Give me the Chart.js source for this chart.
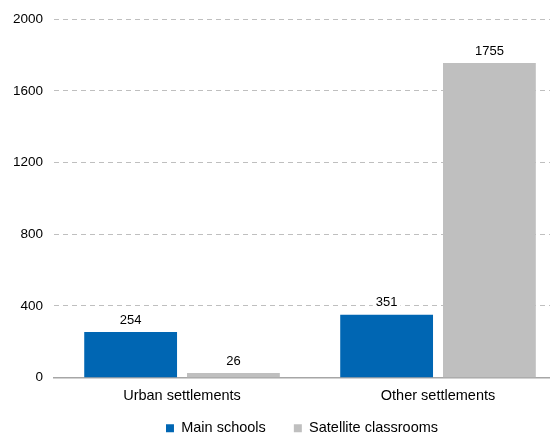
<!DOCTYPE html>
<html>
<head>
<meta charset="utf-8">
<script src="https://cdn.jsdelivr.net/npm/chart.js@4/dist/chart.umd.min.js"></script>
<style>
  html, body { margin: 0; padding: 0; background: #fff; overflow: hidden; }
  #wrap { width: 550px; height: 434px; overflow: hidden; }
  #box { width: 570px; height: 434px; }
</style>
</head>
<body>
<div id="wrap"><div id="box"><canvas id="chart"></canvas></div></div>
<script>
const categories = ['Urban settlements', 'Other settlements'];
const mainSchools = [254, 351];
const satelliteClassrooms = [26, 1755];
const yTicks = [0, 400, 800, 1200, 1600, 2000];

const FONT = '"Liberation Sans", Arial, sans-serif';

// value labels above bars, white box behind so gridlines break
const valueLabels = {
  id: 'valueLabels',
  afterDatasetsDraw(chart) {
    const ctx = chart.ctx;
    ctx.save();
    ctx.font = '13px ' + FONT;
    ctx.textAlign = 'center';
    ctx.textBaseline = 'middle';
    chart.data.datasets.forEach((ds, i) => {
      chart.getDatasetMeta(i).data.forEach((bar, j) => {
        const txt = String(ds.data[j]);
        const w = ctx.measureText(txt).width;
        const y = bar.y - 12;
        ctx.fillStyle = '#fff';
        ctx.fillRect(bar.x - w / 2 - 3, y - 8, w + 6, 16);
        ctx.fillStyle = '#000';
        ctx.fillText(txt, bar.x, y);
      });
    });
    ctx.restore();
  }
};

// legend padding is wide for item spacing; pull its top up so it fits
const legendShift = {
  id: 'legendShift',
  afterLayout(chart) {
    const lg = chart.legend;
    if (lg) {
      lg.left += 18; lg.right += 18;
      lg.top -= 14;
    }
  }
};

new Chart(document.getElementById('chart'), {
  type: 'bar',
  data: {
    labels: categories,
    datasets: [
      { label: 'Main schools', data: mainSchools, backgroundColor: '#0066B3' },
      { label: 'Satellite classrooms', data: satelliteClassrooms, backgroundColor: '#BFBFBF' }
    ]
  },
  options: {
    responsive: true,
    maintainAspectRatio: false,
    animation: false,
    categoryPercentage: 0.803,
    barPercentage: 0.903,
    layout: { padding: { left: 2, right: 4, top: 14, bottom: 0 } },
    plugins: {
      tooltip: { enabled: false },
      legend: {
        position: 'bottom',
        maxHeight: 27,
        labels: {
          font: { family: FONT, size: 14.5 },
          color: '#000',
          boxWidth: 8,
          boxHeight: 8,
          padding: 28
        }
      }
    },
    scales: {
      x: {
        grid: { display: false },
        border: { display: true, color: '#A6A6A6', width: 1.5 },
        ticks: { font: { family: FONT, size: 14.5 }, color: '#000', padding: 2 }
      },
      y: {
        min: 0,
        max: 2000,
        afterBuildTicks(axis) { axis.ticks = yTicks.map(v => ({ value: v })); },
        grid: {
          color: '#BFBFBF',
          drawTicks: false,
          lineWidth: c => (c.tick.value === 0 ? 0 : 1)
        },
        border: { display: false, dash: [5, 4] },
        ticks: {
          font: { family: FONT, size: 13.5 },
          color: '#000',
          padding: 11,
          callback: v => String(v)
        }
      }
    }
  },
  plugins: [valueLabels, legendShift]
});
</script>
</body>
</html>
